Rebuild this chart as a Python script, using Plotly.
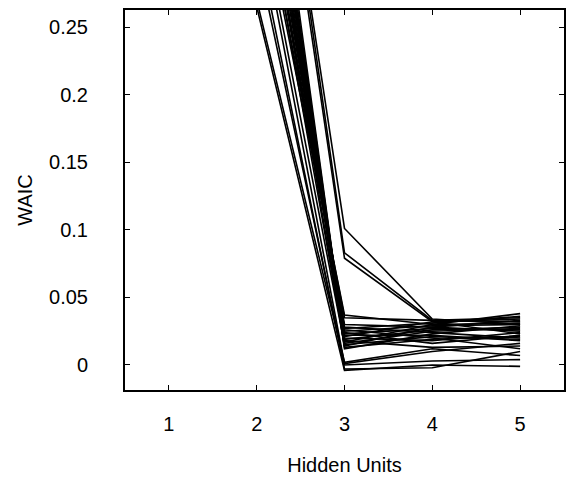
import plotly.graph_objects as go

hidden_units = [1, 2, 3, 4, 5]
x_tick_labels = ["1", "2", "3", "4", "5"]
y_tick_values = [0, 0.05, 0.1, 0.15, 0.2, 0.25]
y_tick_labels = ["0", "0.05", "0.1", "0.15", "0.2", "0.25"]

# WAIC per run at each number of hidden units (one entry per run)
waic_h1 = [1.10, 1.05, 0.98, 1.20, 1.15, 0.95, 1.08, 1.12, 1.02, 0.99,
           1.18, 1.06, 1.01, 1.14, 0.97, 1.09, 1.11, 1.03, 1.16, 1.00,
           1.07, 1.13, 0.96, 1.04, 1.19, 1.22, 1.25, 1.17]
waic_h2 = [0.265, 0.270, 0.305, 0.316, 0.340, 0.360, 0.372, 0.385, 0.395, 0.405,
           0.412, 0.420, 0.428, 0.436, 0.445, 0.452, 0.460, 0.468, 0.478, 0.490,
           0.380, 0.350, 0.400, 0.430, 0.470, 0.528, 0.536, 0.520]
waic_h3 = [-0.004, 0.002, 0.000, -0.003, 0.001, 0.037, 0.035, 0.030, 0.028, 0.027,
           0.026, 0.025, 0.024, 0.023, 0.022, 0.021, 0.020, 0.019, 0.018, 0.017,
           0.016, 0.015, 0.014, 0.013, 0.012, 0.101, 0.083, 0.079]
waic_h4 = [0.000, 0.012, 0.003, -0.002, 0.010, 0.030, 0.033, 0.028, 0.024, 0.031,
           0.020, 0.029, 0.016, 0.027, 0.022, 0.032, 0.018, 0.026, 0.013, 0.030,
           0.025, 0.021, 0.028, 0.019, 0.023, 0.034, 0.033, 0.032]
waic_h5 = [-0.001, 0.007, 0.004, 0.010, 0.016, 0.038, 0.035, 0.033, 0.020, 0.036,
           0.012, 0.030, 0.022, 0.026, 0.018, 0.034, 0.024, 0.028, 0.014, 0.031,
           0.027, 0.019, 0.025, 0.021, 0.029, 0.030, 0.032, 0.023]

fig = go.Figure()
for i in range(len(waic_h1)):
    fig.add_trace(go.Scatter(
        x=hidden_units,
        y=[waic_h1[i], waic_h2[i], waic_h3[i], waic_h4[i], waic_h5[i]],
        mode="lines",
        line=dict(color="black", width=1.6),
        showlegend=False,
        hoverinfo="skip",
    ))

font = dict(family="Liberation Sans, Arial, sans-serif", size=20, color="black")
fig.update_layout(
    width=571, height=481,
    margin=dict(l=125, r=5, t=10, b=91),
    paper_bgcolor="white", plot_bgcolor="white",
    font=font,
    showlegend=False,
)
fig.update_xaxes(
    range=[0.5, 5.5],
    tickvals=hidden_units, ticktext=x_tick_labels,
    ticks="inside", ticklen=5, tickwidth=1, tickcolor="black",
    showline=True, linecolor="black", linewidth=2, mirror="ticks",
    showgrid=False, zeroline=False,
    ticklabelstandoff=15,
    title=dict(text="Hidden Units", standoff=24, font=font),
)
fig.update_yaxes(
    range=[-0.0185, 0.2626],
    tickvals=y_tick_values, ticktext=y_tick_labels,
    ticks="inside", ticklen=5, tickwidth=1, tickcolor="black",
    showline=True, linecolor="black", linewidth=2, mirror="ticks",
    showgrid=False, zeroline=False,
    ticklabelstandoff=31,
    title=dict(text="WAIC", standoff=11, font=font),
)

fig.write_html("out.html", config={"displayModeBar": False},
               post_script="document.body.style.margin='0';")
